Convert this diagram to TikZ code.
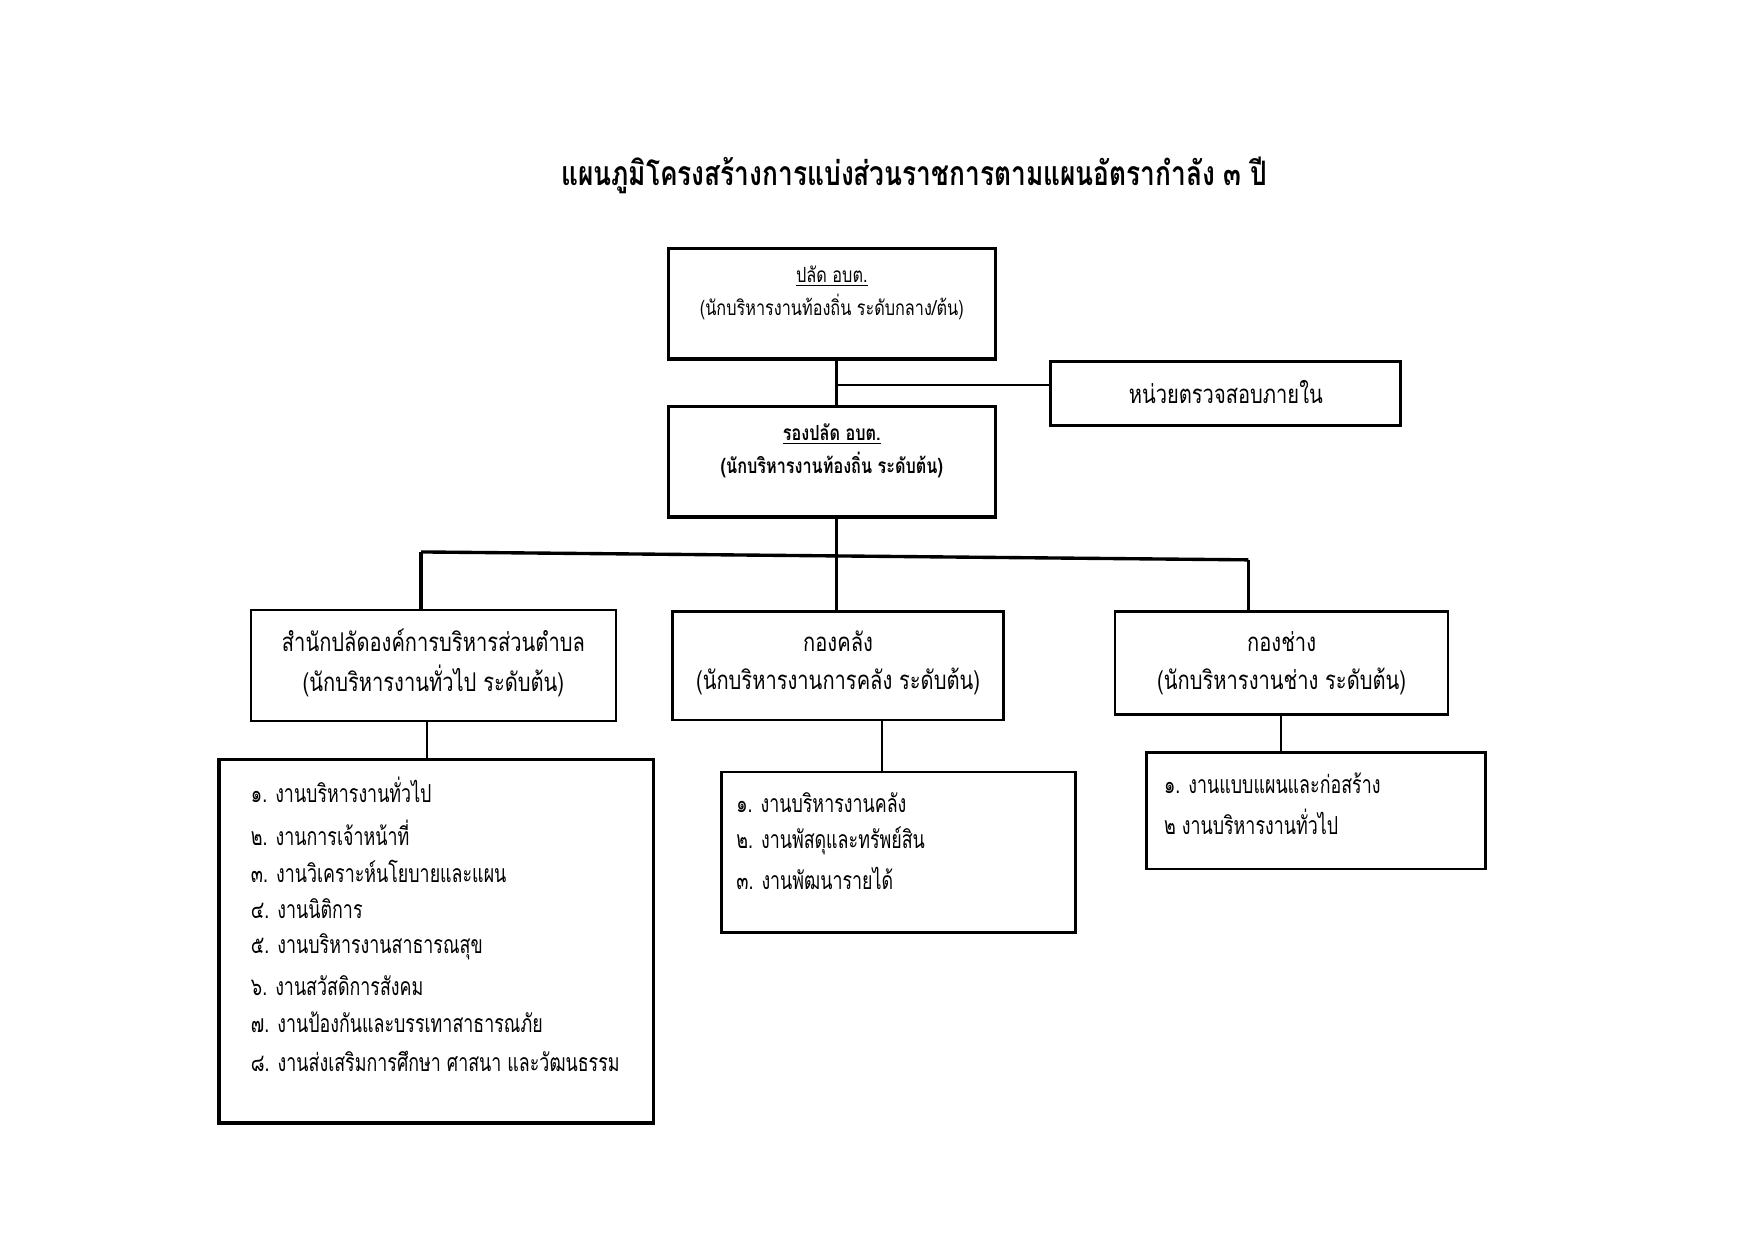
\documentclass[tikz,border=0pt]{standalone}
\usepackage{fontspec}
\setmainfont[Script=Thai,FakeStretch=0.78]{Loma}
\newfontfamily\itemfont[Script=Thai,FakeStretch=0.72]{Loma}
\begin{document}
\begin{tikzpicture}[x=0.02cm,y=-0.02cm,
  thickbox/.style={draw,line width=1.7pt,inner sep=0pt},
  thinbox/.style={draw,line width=1pt,inner sep=0pt},
  lbl/.style={font=\fontsize{13}{15}\selectfont,inner sep=0pt},
  sml/.style={font=\fontsize{10.5}{12}\selectfont,inner sep=0pt},
  item/.style={font=\itemfont\fontsize{12.5}{15}\selectfont,inner sep=0pt,anchor=west},
  conn/.style={line width=1.3pt}]
\useasboundingbox (0,0) rectangle (1554,1100);
\node[font=\fontsize{17}{20}\selectfont\bfseries] (title) at (810,155) {แผนภูมิโครงสร้างการแบ่งส่วนราชการตามแผนอัตรากำลัง ๓ ปี};
\node[thickbox,minimum width=5.8cm,minimum height=1.96cm] (B1) at (737,269) {};
\node[sml] (b1a) at (737,245) {\underline{ปลัด อบต.}};
\node[sml] (b1b) at (737,272) {(นักบริหารงานท้องถิ่น ระดับกลาง/ต้น)};
\node[thinbox,line width=1.5pt,minimum width=6.2cm,minimum height=1.14cm] (A) at (1086,348.5) {};
\node[lbl] (at) at (1086,347) {หน่วยตรวจสอบภายใน};
\node[thickbox,minimum width=5.8cm,minimum height=1.96cm] (B2) at (737,409) {};
\node[sml,font=\fontsize{10.5}{12}\selectfont\bfseries] (b2a) at (737,385) {\underline{รองปลัด อบต.}};
\node[sml,font=\fontsize{10.5}{12}\selectfont\bfseries] (b2b) at (737,412) {(นักบริหารงานท้องถิ่น ระดับต้น)};
\node[thinbox,minimum width=6.48cm,minimum height=1.98cm] (D1) at (384,589.5) {};
\node[lbl] (d1a) at (384,567) {สำนักปลัดองค์การบริหารส่วนตำบล};
\node[lbl] (d1b) at (384,603) {(นักบริหารงานทั่วไป ระดับต้น)};
\node[thinbox,line width=1.3pt,minimum width=5.86cm,minimum height=1.92cm] (D2) at (742.5,590) {};
\node[lbl] (d2a) at (742.5,568) {กองคลัง};
\node[lbl] (d2b) at (742.5,604) {(นักบริหารงานการคลัง ระดับต้น)};
\node[thinbox,line width=1.3pt,minimum width=5.9cm,minimum height=1.82cm] (D3) at (1135.5,587.5) {};
\node[lbl] (d3a) at (1135.5,568) {กองช่าง};
\node[lbl] (d3b) at (1135.5,604) {(นักบริหารงานช่าง ระดับต้น)};
\node[thickbox,minimum width=7.7cm,minimum height=6.44cm] (L1) at (386.5,834) {};
\node[item] (l11) at (222,700) {๑. งานบริหารงานทั่วไป};
\node[item] (l12) at (222,738) {๒. งานการเจ้าหน้าที่};
\node[item] (l13) at (222,772) {๓. งานวิเคราะห์นโยบายและแผน};
\node[item] (l14) at (222,805) {๔. งานนิติการ};
\node[item] (l15) at (222,839) {๕. งานบริหารงานสาธารณสุข};
\node[item] (l16) at (222,873) {๖. งานสวัสดิการสังคม};
\node[item] (l17) at (222,906) {๗. งานป้องกันและบรรเทาสาธารณภัย};
\node[item] (l18) at (222,940) {๘. งานส่งเสริมการศึกษา ศาสนา และวัฒนธรรม};
\node[thickbox,line width=1.4pt,minimum width=6.28cm,minimum height=2.84cm] (L2) at (796,755) {};
\node[item] (l21) at (652,711) {๑. งานบริหารงานคลัง};
\node[item] (l22) at (652,745) {๒. งานพัสดุและทรัพย์สิน};
\node[item] (l23) at (652,778) {๓. งานพัฒนารายได้};
\node[thickbox,line width=1.4pt,minimum width=6.0cm,minimum height=2.06cm] (L3) at (1166,718.5) {};
\node[item] (l31) at (1031,694) {๑. งานแบบแผนและก่อสร้าง};
\node[item] (l32) at (1031,728) {๒ งานบริหารงานทั่วไป};
\coordinate (j) at (741,341);
\coordinate (bm) at (741,491);
\coordinate (bl) at (373,489);
\coordinate (br) at (1106,496);
\coordinate (c1) at (378,0);
\coordinate (c2) at (781,0);
\coordinate (c3) at (1135,0);
\draw[conn] (B1.south -| j) -- (B2.north -| j);
\draw[conn] (j) -- (A.west |- j);
\draw[conn,line width=1.7pt] (B2.south -| bm) -- (bm);
\draw[conn,line width=1.7pt] (bl) -- (br);
\draw[conn,line width=1.7pt] (bl) -- (bl |- D1.north);
\draw[conn,line width=1.7pt] (bm) -- (bm |- D2.north);
\draw[conn,line width=1.7pt] (br) -- (br |- D3.north);
\draw[conn,line width=1pt] (c1 |- D1.south) -- (c1 |- L1.north);
\draw[conn,line width=1pt] (c2 |- D2.south) -- (c2 |- L2.north);
\draw[conn,line width=1pt] (c3 |- D3.south) -- (c3 |- L3.north);
\end{tikzpicture}
\end{document}
